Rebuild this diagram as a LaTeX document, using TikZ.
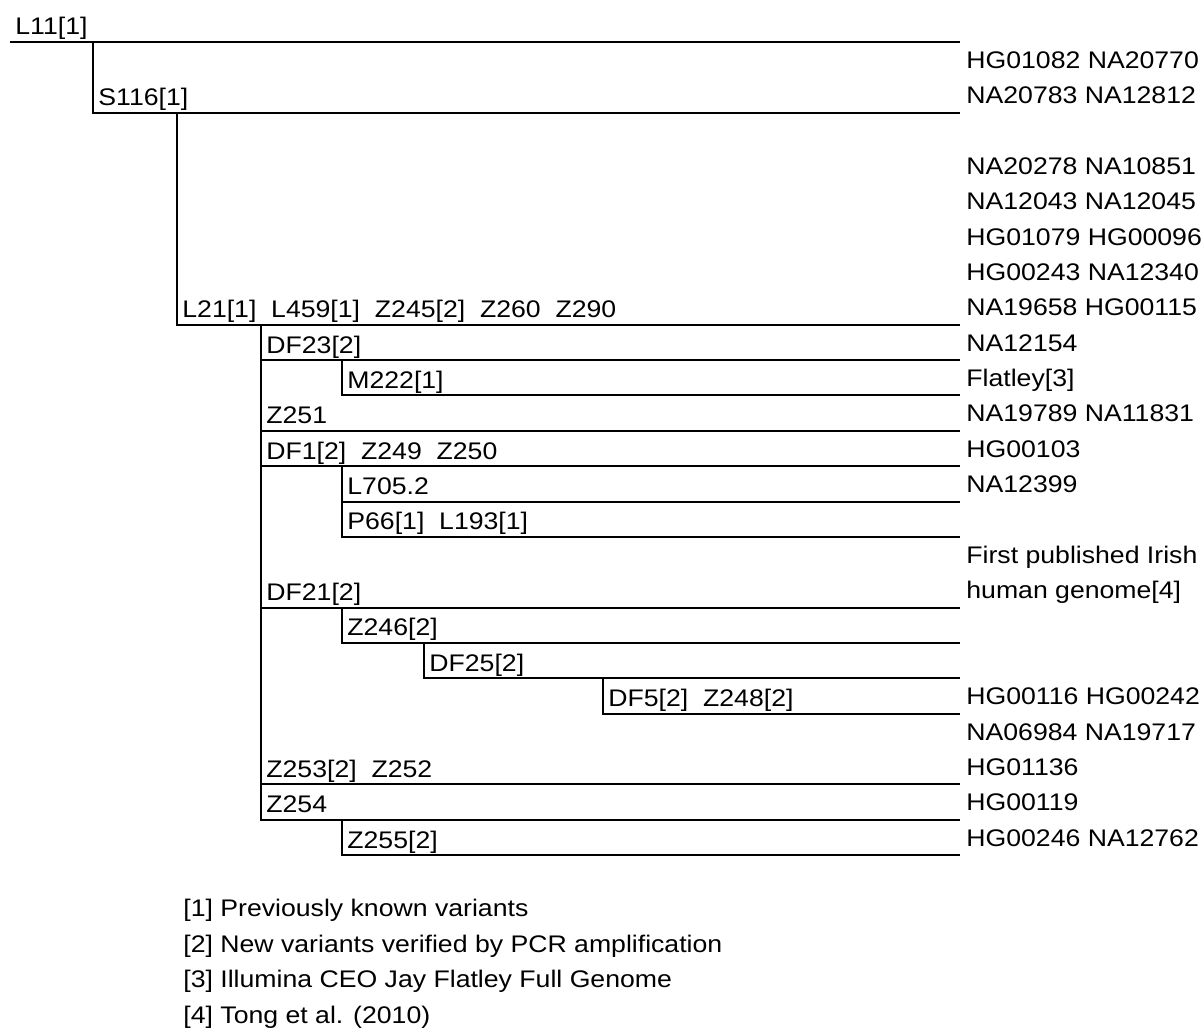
\documentclass[tikz,border=0pt]{standalone}
\usepackage{fontspec}
\setmainfont[FakeStretch=1.11]{Liberation Sans}
\usetikzlibrary{calc}

\begin{document}
\begin{tikzpicture}[
  x=0.5pt,
  y=-0.5pt,
  font=\fontsize{12}{14}\selectfont,
  branch/.style={line width=1pt},
  clade/.style={anchor=base west, inner sep=0pt, xshift=2.5pt, yshift=3.5pt},
  leaf/.style={anchor=base west, inner sep=0pt},
  note/.style={anchor=base west, inner sep=0pt}
]
  \useasboundingbox (0,0) rectangle (1201,1031);

  % branch points of the haplogroup tree
  \coordinate (l11) at (10,42);
  \coordinate (s116) at (93,112.7);
  \coordinate (l21) at (177,324.8);
  \coordinate (df23) at (261,360.2);
  \coordinate (m222) at (342,395.5);
  \coordinate (z251) at (261,430.9);
  \coordinate (df1) at (261,466.2);
  \coordinate (l705) at (342,501.6);
  \coordinate (p66) at (342,536.9);
  \coordinate (df21) at (261,607.6);
  \coordinate (z246) at (342,642.9);
  \coordinate (df25) at (424,678.3);
  \coordinate (df5) at (603,713.6);
  \coordinate (z253) at (261,784.4);
  \coordinate (z254) at (261,819.7);
  \coordinate (z255) at (342,855.1);
  \coordinate (tip) at (960,0);

  \draw[branch] (l11) -- (l11 -| tip);
  \draw[branch] (l11 -| s116) -- (s116) -- (s116 -| tip);
  \draw[branch] (s116 -| l21) -- (l21) -- (l21 -| tip);
  \draw[branch] (l21 -| df23) -- (df23) -- (df23 -| tip);
  \draw[branch] (df23 -| m222) -- (m222) -- (m222 -| tip);
  \draw[branch] (l21 -| z251) -- (z251) -- (z251 -| tip);
  \draw[branch] (l21 -| df1) -- (df1) -- (df1 -| tip);
  \draw[branch] (df1 -| l705) -- (l705) -- (l705 -| tip);
  \draw[branch] (df1 -| p66) -- (p66) -- (p66 -| tip);
  \draw[branch] (l21 -| df21) -- (df21) -- (df21 -| tip);
  \draw[branch] (df21 -| z246) -- (z246) -- (z246 -| tip);
  \draw[branch] (z246 -| df25) -- (df25) -- (df25 -| tip);
  \draw[branch] (df25 -| df5) -- (df5) -- (df5 -| tip);
  \draw[branch] (l21 -| z253) -- (z253) -- (z253 -| tip);
  \draw[branch] (l21 -| z254) -- (z254) -- (z254 -| tip);
  \draw[branch] (z254 -| z255) -- (z255) -- (z255 -| tip);

  % SNP labels
  \node[clade] (t11) at (l11) {L11[1]};
  \node[clade] (t116) at (s116) {S116[1]};
  \node[clade] (t21) at (l21) {L21[1]~~L459[1]~~Z245[2]~~Z260~~Z290};
  \node[clade] (tdf23) at (df23) {DF23[2]};
  \node[clade] (tm222) at (m222) {M222[1]};
  \node[clade] (tz251) at (z251) {Z251};
  \node[clade] (tdf1) at (df1) {DF1[2]~~Z249~~Z250};
  \node[clade] (tl705) at (l705) {L705.2};
  \node[clade] (tp66) at (p66) {P66[1]~~L193[1]};
  \node[clade] (tdf21) at (df21) {DF21[2]};
  \node[clade] (tz246) at (z246) {Z246[2]};
  \node[clade] (tdf25) at (df25) {DF25[2]};
  \node[clade] (tdf5) at (df5) {DF5[2]~~Z248[2]};
  \node[clade] (tz253) at (z253) {Z253[2]~~Z252};
  \node[clade] (tz254) at (z254) {Z254};
  \node[clade] (tz255) at (z255) {Z255[2]};

  % samples
  \node[leaf] (smp0) at (966,68.5) {HG01082 NA20770};
  \node[leaf] (smp1) at (966,103.9) {NA20783 NA12812};
  \node[leaf] (smp3) at (966,174.6) {NA20278 NA10851};
  \node[leaf] (smp4) at (966,209.9) {NA12043 NA12045};
  \node[leaf] (smp5) at (966,245.3) {HG01079 HG00096};
  \node[leaf] (smp6) at (966,280.6) {HG00243 NA12340};
  \node[leaf] (smp7) at (966,316.0) {NA19658 HG00115};
  \node[leaf] (smp8) at (966,351.3) {NA12154};
  \node[leaf] (smp9) at (966,386.7) {Flatley[3]};
  \node[leaf] (smp10) at (966,422.0) {NA19789 NA11831};
  \node[leaf] (smp11) at (966,457.4) {HG00103};
  \node[leaf] (smp12) at (966,492.7) {NA12399};
  \node[leaf] (smp14) at (966,563.4) {First published Irish};
  \node[leaf] (smp15) at (966,598.8) {human genome[4]};
  \node[leaf] (smp18) at (966,704.8) {HG00116 HG00242};
  \node[leaf] (smp19) at (966,740.2) {NA06984 NA19717};
  \node[leaf] (smp20) at (966,775.5) {HG01136};
  \node[leaf] (smp21) at (966,810.9) {HG00119};
  \node[leaf] (smp22) at (966,846.2) {HG00246 NA12762};

  % footnotes
  \node[note] (fn1) at (183,916.9) {[1] Previously known variants};
  \node[note] (fn2) at (183,952.3) {[2] New variants verified by PCR amplification};
  \node[note] (fn3) at (183,987.6) {[3] Illumina CEO Jay Flatley Full Genome};
  \node[note] (fn4) at (183,1023.0) {[4] Tong et al. (2010)};
\end{tikzpicture}
\end{document}
